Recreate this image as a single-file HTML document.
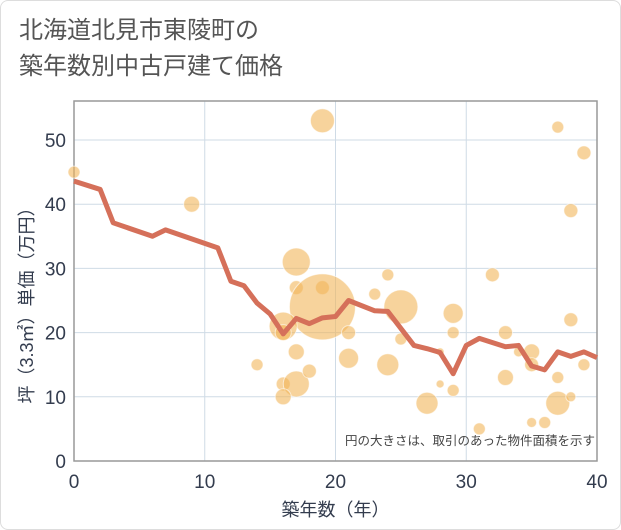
<!DOCTYPE html>
<html><head><meta charset="utf-8"><style>
body{margin:0;background:#fff;}
#card{position:absolute;left:0;top:0;width:619px;height:528px;border:1px solid #ddd;border-radius:8px;background:#fff;overflow:hidden;font-family:"Liberation Sans","Noto Sans CJK JP",sans-serif;}
#title{position:absolute;left:18px;top:12px;font-size:24px;line-height:36px;color:#555;}
</style></head><body>
<div id="card">
<div id="title">北海道北見市東陵町の<br>築年数別中古戸建て価格</div>
<svg id="chart" width="621" height="530" style="position:absolute;left:0;top:0"></svg>
</div>
<script>
const xTicks=[0,10,20,30,40];
const yTicks=[0,10,20,30,40,50];
const bubbleYears=[0,9,19,17,17,19,19,16,16,17,14,16,17,18,16,21,21,23,24,25,24,25,27,28,28,29,29,29,31,32,33,33,34,35,35,35,36,37,37,37,38,38,38,39,39];
const bubblePrices=[45,40,53,31,27,27,24,21,20,17,15,12,12,14,10,20,16,26,29,24,15,19,9,17,12,23,20,11,5,29,20,13,17,17,15,6,6,9,13,52,39,22,10,48,15];
const bubbleSizes=[6,8,12,14,7,7,33,14,8,8,6,7,13,7,8,7,10,6,6,17,11,6,11,4,4,10,6,6,6,7,7,8,5,8,7,5,6,12,6,6,7,7,5,7,6];
const lineYears=[0,2,3,6,7,11,12,13,14,15,16,17,18,19,20,21,23,24,26,27,28,29,30,31,33,34,35,36,37,38,39,40];
const linePrices=[43.6,42.3,37.1,35,36,33.2,28,27.3,24.6,22.9,19.8,22.2,21.4,22.3,22.5,25,23.4,23.3,18,17.5,16.9,13.6,18,19.1,17.8,18,14.8,14.2,17,16.3,17,16.1];
const X0=73,X1=596,Y0=460,Y1=100;
const sx=v=>X0+(v/40)*(X1-X0);
const sy=v=>Y0-v*6.42;
const svg=document.getElementById('chart');
const NS='http://www.w3.org/2000/svg';
function mk(t,a){const e=document.createElementNS(NS,t);for(const k in a)e.setAttribute(k,a[k]);svg.appendChild(e);return e;}
let e=mk('rect',{x:X0,y:Y1,width:X1-X0,height:Y0-Y1,fill:'#fff',stroke:'none'});


xTicks.forEach(t=>{
 let g=mk('line',{x1:sx(t),x2:sx(t),y1:Y1,y2:Y0,stroke:'#cfdbe6','stroke-width':1});
 
 
 let l=mk('text',{x:sx(t),y:Y0+27,'text-anchor':'middle','font-size':19,fill:'#333c4e'});
 l.textContent=t;
 
 
});
yTicks.forEach(t=>{
 let g=mk('line',{x1:X0,x2:X1,y1:sy(t),y2:sy(t),stroke:'#cfdbe6','stroke-width':1});
 
 
 let l=mk('text',{x:X0-8,y:sy(t)+7,'text-anchor':'end','font-size':19,fill:'#333c4e'});
 l.textContent=t;
 
 
});
let ax=mk('rect',{x:X0,y:Y1,width:X1-X0,height:Y0-Y1,fill:'none',stroke:'#999','stroke-width':1.5});


bubbleYears.forEach((yr,i)=>{
 let c=mk('circle',{cx:sx(yr),cy:sy(bubblePrices[i]),r:bubbleSizes[i],fill:'#f2b55a','fill-opacity':0.6,stroke:'#fff','stroke-opacity':0.6,'stroke-width':1});
 
 
});
let p=mk('polyline',{points:lineYears.map((y,i)=>sx(y)+','+sy(linePrices[i])).join(' '),fill:'none',stroke:'#d5705a','stroke-width':5,'stroke-linejoin':'round'});


let n=mk('text',{x:X1-2,y:Y0-16,'text-anchor':'end','font-size':12.5,fill:'#444'});
n.textContent='円の大きさは、取引のあった物件面積を示す';


let xt=mk('text',{x:(X0+X1)/2,y:515,'text-anchor':'middle','font-size':18,fill:'#333c4e'});
xt.textContent='築年数（年）';


let yt=mk('text',{x:0,y:0,'text-anchor':'middle','font-size':18,fill:'#333c4e',transform:`translate(32,${(Y0+Y1)/2+20}) rotate(-90)`});
yt.textContent='坪（3.3㎡）単価（万円）';


</script>
</body></html>
